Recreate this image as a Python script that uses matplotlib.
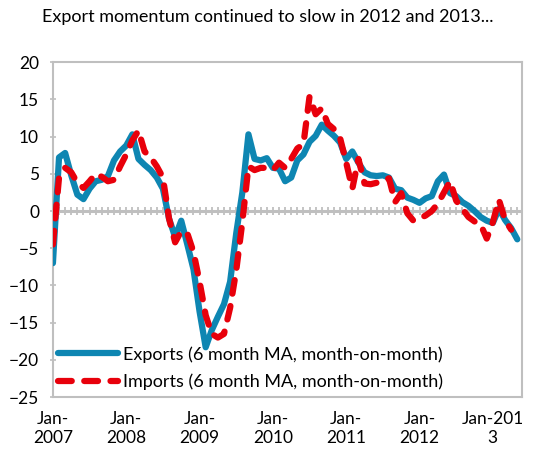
import numpy as np
import pandas as pd
import matplotlib
matplotlib.use("Agg")
import matplotlib.pyplot as plt

plt.rcParams['font.family'] = ['Lato', 'DejaVu Sans']

# monthly, Jan-2007 .. May-2013
months = pd.date_range("2007-01-01", periods=77, freq="MS")

exports = [-7, 7.2, 7.8, 4.8, 2.2, 1.6, 3, 4, 4.2, 4.7, 6.8, 8,
           8.8, 10.3, 7, 6.2, 5.5, 4.5, 3, -1, -3.5, -1.3, -4.5, -7.8,
           -13.5, -18.3, -16, -14.2, -12.5, -9.5, -3, 2.5, 10.3, 7, 6.8, 7.1,
           5.8, 5.7, 4, 4.5, 6.8, 7.6, 9.3, 10.1, 11.6, 10.8, 10.1, 9.2,
           7, 8, 6.5, 5.2, 4.8, 4.7, 4.8, 4.5, 3, 2.8, 1.8, 1.5,
           1.1, 1.7, 2, 4, 4.9, 2.4, 2, 1.2, 0.7, 0, -0.8, -1.3,
           -1.6, 0.3, -1.2, -2.3, -3.8]

imports = [-4.5, 4.5, 5.8, 5.2, 3.8, 3.1, 4, 5, 4.6, 4, 4.2, 6,
           7.6, 9.5, 10.8, 8, 7.2, 6, 4.5, -1, -4.2, -2.7, -3, -5.5,
           -9.5, -14, -16.5, -17, -16.5, -13, -8, -1.5, 6, 5.5, 5.8, 5.8,
           5.5, 6.5, 5.8, 7, 8.4, 9, 15.4, 13, 13.8, 11.7, 11, 9.8,
           6.5, 3, 7, 3.7, 3.6, 3.8, 4, 4.4, 1.2, 2.4, -0.3, -1.3,
           -1, -0.6, 0, 1, 2.5, 4, 1.4, 0.3, -0.8, -1.4, -1.8, -3.7,
           -1.5, 1.5, -1.2, -2.5, np.nan]

xlabels = ["Jan-\n2007", "Jan-\n2008", "Jan-\n2009", "Jan-\n2010",
           "Jan-\n2011", "Jan-\n2012", "Jan-201\n3"]

grey = "#BFBFBF"
x = np.arange(len(months))

fig = plt.figure(figsize=(5.4, 4.57), dpi=100)
ax = fig.add_axes([0.098, 0.131, 0.869, 0.733])

# zero line with monthly tick marks
ax.axhline(0, color=grey, lw=2.2, zorder=1)
ax.vlines(np.arange(len(months) + 1), -0.55, 0.55, color=grey, lw=1.3, zorder=1)

ax.plot(x, exports, color="#0E86B2", lw=4.5, solid_capstyle="round",
        solid_joinstyle="round", label="Exports (6 month MA, month-on-month)", zorder=3)
ax.plot(x, imports, color="#E8000B", lw=4.5, dashes=(2.2, 2.0), dash_capstyle="round",
        label="Imports (6 month MA, month-on-month)", zorder=4)

ax.set_xlim(0, len(months) - 0.2)
ax.set_ylim(-25, 20)
ax.set_yticks(range(-25, 21, 5))
ax.set_xticks(range(0, 73, 12))
ax.set_xticklabels(xlabels)
ax.tick_params(axis="x", length=0, pad=10, labelsize=12.5)
ax.tick_params(axis="y", length=4, direction="inout", color=grey, width=1.2,
               labelsize=12.5, pad=8)
for s in ax.spines.values():
    s.set_color(grey)
    s.set_linewidth(1.5)

leg = ax.legend(loc="lower left", bbox_to_anchor=(0.0, 0.005), borderaxespad=0,
                frameon=False, fontsize=13, handlelength=3.3, handletextpad=0.3,
                labelspacing=0.6, borderpad=0.3)

fig.text(0.495, 0.962, "Export momentum continued to slow in 2012 and 2013...",
         ha="center", va="center", fontsize=13)

fig.savefig("out.png", dpi=100)
